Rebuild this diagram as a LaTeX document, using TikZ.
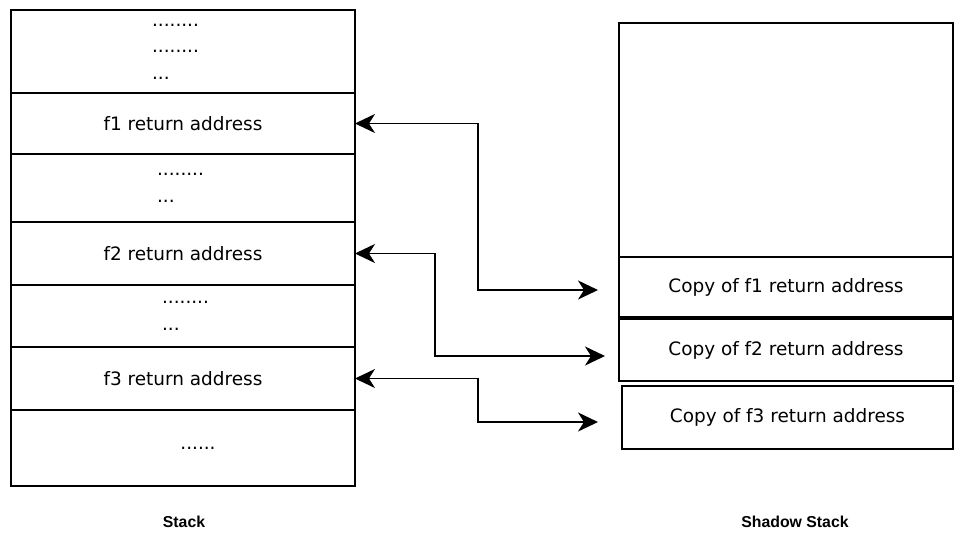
\documentclass[tikz,border=0pt]{standalone}
\usepackage{fontspec}
\setmainfont{DejaVu Sans}
\newfontfamily\lblfont{Liberation Sans}
\usetikzlibrary{arrows.meta,positioning}

\begin{document}
\begin{tikzpicture}[x=0.02cm,y=-0.02cm,>={Stealth[length=0.4cm,width=0.38cm,inset=0.12cm]},font=\fontsize{10.5}{15}\selectfont]
\tikzstyle{cell}=[draw,line width=1.1pt,inner sep=0,outer sep=0,align=left]
\tikzstyle{lbl}=[font=\lblfont\bfseries\fontsize{9}{11}\selectfont]
\tikzstyle{arr}=[<->,line width=1.1pt]
\useasboundingbox (0,0) rectangle (955,535);
% stack
\node[cell,minimum width=6.88cm,minimum height=1.66cm] (s0) at (183,51.5) {........\hspace*{0.3cm}\\........\\...};
\node[cell,minimum width=6.88cm,minimum height=1.22cm] (f1) at (183,123.5) {f1 return address};
\node[cell,minimum width=6.88cm,minimum height=1.36cm] (s1) at (183,188) {........\hspace*{0.1cm}\\...};
\node[cell,minimum width=6.88cm,minimum height=1.26cm] (f2) at (183,253.5) {f2 return address};
\node[cell,minimum width=6.88cm,minimum height=1.24cm] (s2) at (183,316) {\hspace*{0.1cm}........\\\hspace*{0.1cm}...};
\node[cell,minimum width=6.88cm,minimum height=1.26cm] (f3) at (183,378.5) {f3 return address};
\node[cell,minimum width=6.88cm,minimum height=1.52cm] (s3) at (183,448) {\hspace*{0.6cm}......};
\node[lbl] (stk) at (184,522) {Stack};
% shadow stack
\node[cell,minimum width=6.68cm,minimum height=4.68cm] (top) at (786,140) {};
\node[cell,minimum width=6.68cm,minimum height=1.2cm] (c1) at (786,287) {Copy of f1 return address};
\node[cell,minimum width=6.68cm,minimum height=1.24cm] (c2) at (786,350) {Copy of f2 return address};
\node[cell,minimum width=6.62cm,minimum height=1.26cm] (c3) at (787.5,417.5) {Copy of f3 return address};
\node[lbl] (shd) at (795,522) {Shadow Stack};
% links
\coordinate (b1) at (478,290); \coordinate (t1) at (598,290);
\coordinate (b2) at (435,356); \coordinate (t2) at (605,356);
\coordinate (b3) at (478,422); \coordinate (t3) at (598,422);
\draw[arr] (f1.east) -| (b1) -- (t1);
\draw[arr] (f2.east) -| (b2) -- (t2);
\draw[arr] (f3.east) -| (b3) -- (t3);
\end{tikzpicture}
\end{document}
